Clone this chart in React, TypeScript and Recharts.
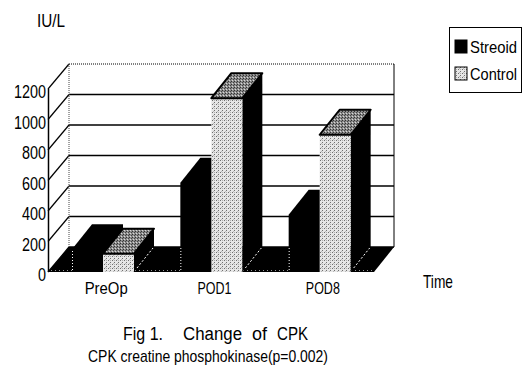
import React from 'react';
import { BarChart, Bar, XAxis, YAxis, CartesianGrid, ReferenceArea, Legend } from 'recharts';

const categories = ['PreOp', 'POD1', 'POD8'];
const streoidValues = [150, 585, 375];
const controlValues = [120, 1140, 900];
const yTicks = [0, 200, 400, 600, 800, 1000, 1200];
const seriesNames = ['Streoid', 'Control'];

const data = categories.map((c, i) => ({ time: c, streoid: streoidValues[i], control: controlValues[i] }));

const DX = 20;
const DY = 25;
const FONT = "'Liberation Sans', Arial, sans-serif";

const pts = (arr: number[][]) => arr.map((p) => p.join(',')).join(' ');

const Defs = () => (
  <defs>
    <pattern id="stip" width="4" height="4" patternUnits="userSpaceOnUse">
      <rect width="4" height="4" fill="#e6e6e6" />
      <rect x="0" y="0" width="1" height="1" fill="#6f6f6f" />
      <rect x="2" y="2" width="1" height="1" fill="#6f6f6f" />
      <rect x="2" y="0" width="1" height="1" fill="#b0b0b0" />
      <rect x="1" y="3" width="1" height="1" fill="#b8b8b8" />
    </pattern>
    <pattern id="stipDark" width="3" height="3" patternUnits="userSpaceOnUse">
      <rect width="3" height="3" fill="#8c8c8c" />
      <rect x="0" y="0" width="1" height="1" fill="#333" />
      <rect x="1" y="2" width="1" height="1" fill="#d8d8d8" />
      <rect x="2" y="1" width="1" height="1" fill="#444" />
    </pattern>
  </defs>
);

const StreoidShape = (p: any) => {
  const { x, y, width: w, height: h } = p;
  if (h == null || isNaN(h)) return null;
  return (
    <g>
      <polygon
        points={pts([[x, y], [x + DX, y - DY], [x + w + DX, y - DY], [x + w + DX, y + h - DY], [x + w, y + h], [x, y + h]])}
        fill="#000"
      />
      <line x1={x + 0.5} y1={y + h - 2} x2={x + 0.5} y2={Math.max(y, y + h - DY)} stroke="#fff" strokeWidth={1} strokeDasharray="1 2" />
    </g>
  );
};

const ControlShape = (p: any) => {
  const { x, y, width: w, height: h } = p;
  if (h == null || isNaN(h)) return null;
  return (
    <g>
      <polygon
        points={pts([[x + w, y], [x + w + DX, y - DY], [x + w + DX, y + h - DY], [x + w, y + h]])}
        fill="#000"
      />
      <rect x={x} y={y} width={w} height={h} fill="url(#stip)" />
      <polygon
        points={pts([[x, y], [x + DX, y - DY], [x + w + DX, y - DY], [x + w, y]])}
        fill="url(#stipDark)"
        stroke="#000"
        strokeWidth={2}
        strokeLinejoin="round"
      />
      <line x1={x + w + 3} y1={y + h - 4} x2={x + w + DX - 1} y2={y + h - DY + 1} stroke="#fff" strokeWidth={1} strokeDasharray="2 2" />
    </g>
  );
};

const WallShape = (p: any) => {
  const { x, y, width: w, height: h } = p;
  const fy = y + h;
  return (
    <g>
      <Defs />
      <line x1={x + DX} y1={y - DY} x2={x + DX} y2={fy - DY} stroke="#444" strokeWidth={1} strokeDasharray="1 1" />
      <line x1={x + w + DX} y1={y - DY} x2={x + w + DX} y2={fy - DY} stroke="#000" strokeWidth={1} />
      <line x1={x - 0.5} y1={y} x2={x - 0.5} y2={fy} stroke="#000" strokeWidth={1.5} />
      <polygon points={pts([[x - 1, fy], [x + w, fy], [x + w + DX, fy - DY], [x + DX, fy - DY]])} fill="#000" />
      <line x1={x + 2} y1={fy - 1.5} x2={x + w - 2} y2={fy - 1.5} stroke="#fff" strokeWidth={0.6} strokeDasharray="1 3" />
    </g>
  );
};

const GridLine = (p: any) => {
  const { x1, y1, x2, index } = p;
  const isTop = index === yTicks.length - 1;
  return (
    <g key={`h-${index}`}>
      <line x1={x1 - 1} y1={y1} x2={x1 + DX} y2={y1 - DY} stroke="#000" strokeWidth={1.2} />
      <line
        x1={x1 + DX}
        y1={y1 - DY}
        x2={x2 + DX}
        y2={y1 - DY}
        stroke="#000"
        strokeWidth={isTop ? 1 : 1.4}
        strokeDasharray={isTop ? '1 1' : undefined}
      />
    </g>
  );
};

const YTick = (p: any) => {
  const s = String(p.payload.value);
  return (
    <text x={46} y={p.y} dy={9} textAnchor="end" fontSize={18} fontFamily={FONT} fill="#000" textLength={8 * s.length} lengthAdjust="spacingAndGlyphs">
      {s}
    </text>
  );
};

const XTick = (p: any) => {
  const s = String(p.payload.value);
  return (
    <text x={p.x + 3} y={294} textAnchor="middle" fontSize={17} fontFamily={FONT} fill="#000" textLength={9 * s.length - 2} lengthAdjust="spacingAndGlyphs">
      {s}
    </text>
  );
};

const LegendBox = (props: any) => {
  const payload = [...(props.payload || [])].sort(
    (a: any, b: any) => seriesNames.indexOf(a.value) - seriesNames.indexOf(b.value)
  );
  return (
    <div style={{ boxSizing: 'border-box', width: 73, height: 66, border: '1.5px solid #000', position: 'relative', background: '#fff' }}>
      {payload.map((e: any, i: number) => (
        <svg key={i} style={{ position: 'absolute', left: 4, top: 10 + i * 27, overflow: 'visible' }} width={68} height={22}>
          <rect x={1} y={2} width={12} height={13} fill={e.color} stroke="#000" strokeWidth={1} />
          <text x={16} y={15} fontSize={17} fontFamily={FONT} fill="#000" textLength={47} lengthAdjust="spacingAndGlyphs">
            {e.value}
          </text>
        </svg>
      ))}
    </div>
  );
};

export default function App() {
  return (
    <div style={{ position: 'absolute', left: 0, top: 0, width: 530, height: 374, background: '#fff' }}>
      <BarChart width={530} height={374} data={data} margin={{ top: 89, right: 156, bottom: 72, left: 9 }} barGap={0} barSize={31}>
        <CartesianGrid vertical={false} horizontal={GridLine as any} />
        <ReferenceArea y1={0} y2={1200} shape={WallShape as any} ifOverflow="visible" />
        <XAxis dataKey="time" axisLine={false} tickLine={false} height={30} tick={XTick} interval={0} />
        <YAxis domain={[0, 1200]} ticks={yTicks} axisLine={false} tickLine={false} width={40} tick={YTick} interval={0} />
        <Legend
          layout="horizontal"
          verticalAlign="middle"
          align="center"
          content={LegendBox}
          wrapperStyle={{ left: 449, top: 27, width: 73, height: 66 }}
        />
        <Bar dataKey="streoid" name={seriesNames[0]} fill="#000" shape={StreoidShape} isAnimationActive={false} />
        <Bar dataKey="control" name={seriesNames[1]} fill="url(#stip)" shape={ControlShape} isAnimationActive={false} />
      </BarChart>
      <svg style={{ position: 'absolute', left: 0, top: 0, pointerEvents: 'none' }} width={530} height={374}>
        <text x={37} y={27} fontSize={19} fontFamily={FONT} fill="#000" textLength={28} lengthAdjust="spacingAndGlyphs">IU/L</text>
        <text x={423} y={288} fontSize={19} fontFamily={FONT} fill="#000" textLength={30} lengthAdjust="spacingAndGlyphs">Time</text>
        <text x={123} y={340} fontSize={18} fontFamily={FONT} fill="#000" textLength={40} lengthAdjust="spacingAndGlyphs">Fig 1.</text>
        <text x={183} y={340} fontSize={18} fontFamily={FONT} fill="#000" textLength={59} lengthAdjust="spacingAndGlyphs">Change</text>
        <text x={252} y={340} fontSize={18} fontFamily={FONT} fill="#000" textLength={15} lengthAdjust="spacingAndGlyphs">of</text>
        <text x={277} y={340} fontSize={18} fontFamily={FONT} fill="#000" textLength={31} lengthAdjust="spacingAndGlyphs">CPK</text>
        <text x={88} y={362} fontSize={17} fontFamily={FONT} fill="#000" textLength={240} lengthAdjust="spacingAndGlyphs">CPK creatine phosphokinase(p=0.002)</text>
      </svg>
    </div>
  );
}
